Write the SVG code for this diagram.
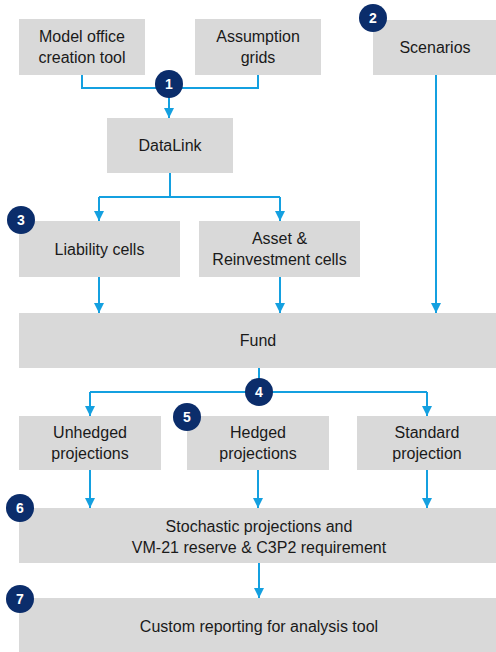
<svg xmlns="http://www.w3.org/2000/svg" width="496" height="652" viewBox="0 0 496 652">
<style>
.box{fill:#D9D9D9}
.t{font-family:"Liberation Sans",Arial,sans-serif;font-size:16px;fill:#1a1a1a;text-anchor:middle}
.ln{fill:none;stroke:#14A0E0;stroke-width:2}
.badge circle{fill:#0B2D6B}
.badge text{font-family:"Liberation Sans",Arial,sans-serif;font-size:14px;font-weight:bold;fill:#fff;text-anchor:middle}
</style>
<defs>
<marker id="ah" markerUnits="userSpaceOnUse" markerWidth="11" markerHeight="10" refX="10" refY="5" orient="auto">
<path d="M0,0 L10,5 L0,10 z" fill="#14A0E0"/>
</marker>
</defs>
<rect width="496" height="652" fill="#fff"/>
<g id="n-model"><rect class="box" x="19" y="19" width="126" height="56"/><text class="t" x="82" y="42">Model office</text><text class="t" x="82" y="63">creation tool</text></g>
<g id="n-assump"><rect class="box" x="195" y="19" width="126" height="56"/><text class="t" x="258" y="42">Assumption</text><text class="t" x="258" y="63">grids</text></g>
<g id="n-scen"><rect class="box" x="373" y="20" width="123" height="55"/><text class="t" x="435" y="53">Scenarios</text></g>
<g id="n-datalink"><rect class="box" x="107" y="118" width="126" height="55"/><text class="t" x="170" y="151">DataLink</text></g>
<g id="n-liab"><rect class="box" x="19" y="221" width="161" height="56"/><text class="t" x="99.5" y="255">Liability cells</text></g>
<g id="n-asset"><rect class="box" x="199" y="221" width="161" height="56"/><text class="t" x="279.5" y="244">Asset &amp;</text><text class="t" x="279.5" y="265">Reinvestment cells</text></g>
<g id="n-fund"><rect class="box" x="19" y="313" width="477" height="55"/><text class="t" x="258" y="346">Fund</text></g>
<g id="n-unhedged"><rect class="box" x="19" y="416" width="142" height="54"/><text class="t" x="90" y="438">Unhedged</text><text class="t" x="90" y="459">projections</text></g>
<g id="n-hedged"><rect class="box" x="187" y="416" width="142" height="54"/><text class="t" x="258" y="438">Hedged</text><text class="t" x="258" y="459">projections</text></g>
<g id="n-standard"><rect class="box" x="357" y="416" width="139" height="54"/><text class="t" x="427" y="438">Standard</text><text class="t" x="427" y="459">projection</text></g>
<g id="n-stoch"><rect class="box" x="19" y="508" width="477" height="55"/><text class="t" x="259" y="532">Stochastic projections and</text><text class="t" x="259" y="553">VM-21 reserve &amp; C3P2 requirement</text></g>
<g id="n-custom"><rect class="box" x="19" y="598" width="477" height="54"/><text class="t" x="259" y="632">Custom reporting for analysis tool</text></g>
<g id="connectors">
<path class="ln" d="M82,75 V88 H258 V75"/>
<path class="ln" d="M169,88 V118" marker-end="url(#ah)"/>
<path class="ln" d="M436,75 V313" marker-end="url(#ah)"/>
<path class="ln" d="M170,173 V197"/>
<path class="ln" d="M99,197 H280"/>
<path class="ln" d="M99,197 V221" marker-end="url(#ah)"/>
<path class="ln" d="M280,197 V221" marker-end="url(#ah)"/>
<path class="ln" d="M99,277 V313" marker-end="url(#ah)"/>
<path class="ln" d="M280,277 V313" marker-end="url(#ah)"/>
<path class="ln" d="M259,368 V392"/>
<path class="ln" d="M90,392 H427"/>
<path class="ln" d="M90,392 V416" marker-end="url(#ah)"/>
<path class="ln" d="M427,392 V416" marker-end="url(#ah)"/>
<path class="ln" d="M90,470 V508" marker-end="url(#ah)"/>
<path class="ln" d="M258,470 V508" marker-end="url(#ah)"/>
<path class="ln" d="M427,470 V508" marker-end="url(#ah)"/>
<path class="ln" d="M259,563 V598" marker-end="url(#ah)"/>
</g>
<g id="b1" class="badge"><circle cx="169" cy="84" r="14"/><text x="169" y="89">1</text></g>
<g id="b2" class="badge"><circle cx="373" cy="18" r="14"/><text x="373" y="23">2</text></g>
<g id="b3" class="badge"><circle cx="21" cy="220" r="14"/><text x="21" y="225">3</text></g>
<g id="b4" class="badge"><circle cx="259" cy="392" r="14"/><text x="259" y="397">4</text></g>
<g id="b5" class="badge"><circle cx="187" cy="417" r="14"/><text x="187" y="422">5</text></g>
<g id="b6" class="badge"><circle cx="20" cy="508" r="14"/><text x="20" y="513">6</text></g>
<g id="b7" class="badge"><circle cx="20" cy="599" r="14"/><text x="20" y="604">7</text></g>
</svg>
